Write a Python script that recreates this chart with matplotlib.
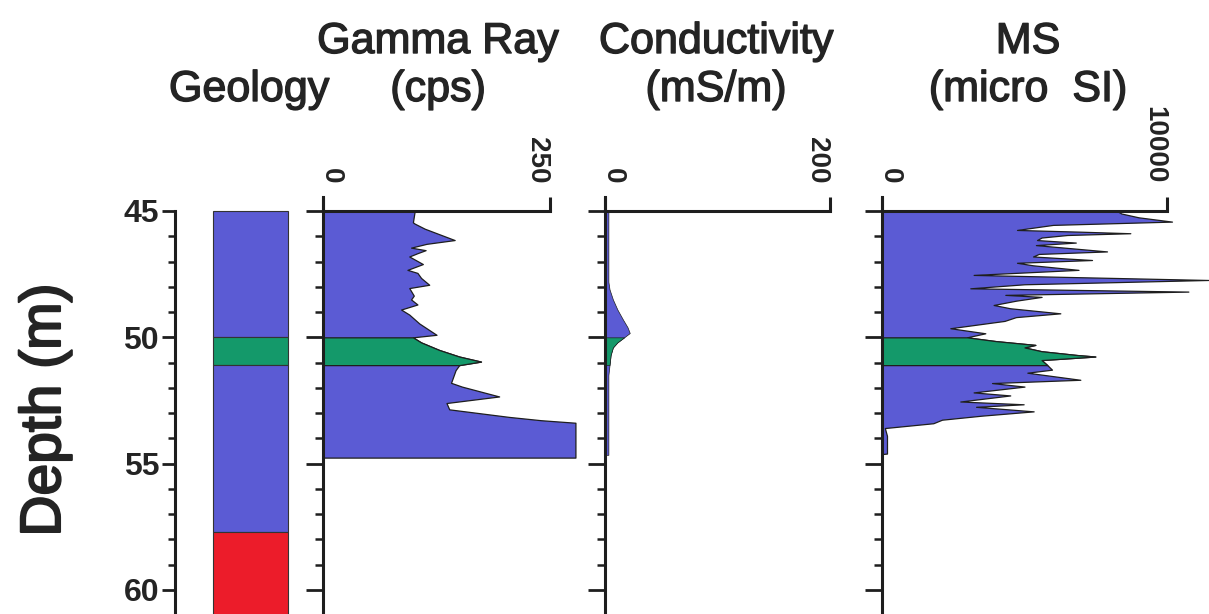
import matplotlib
matplotlib.use("Agg")
import matplotlib.pyplot as plt
import matplotlib.transforms as mtransforms
import matplotlib.patheffects as pe
import numpy as np

plt.rcParams['font.family'] = ['Liberation Sans', 'DejaVu Sans']

# geology column
geo_top = [45.0, 50.0, 51.1, 57.7]
geo_base = [50.0, 51.1, 57.7, 61.0]
geo_colour = ['#5b5bd4', '#14996a', '#5b5bd4', '#ec1c2a']

# gamma ray (cps)
gr_depth = [45.0, 45.45, 45.5, 45.7, 46.15, 46.3, 46.45, 46.55, 46.67, 46.8, 46.9,
            47.1, 47.33, 47.45, 47.65, 47.92, 48.05, 48.35, 48.5, 48.7, 48.9, 49.1,
            49.45, 49.9, 50.0, 50.2, 50.5, 50.76, 50.96, 51.1, 51.3, 51.8, 51.95,
            52.34, 52.6, 52.85, 53.0, 53.15, 53.28, 53.38, 54.76]
gr_value = [101, 99, 101, 112, 145, 114, 97, 113, 104, 95, 100,
            110, 93, 104, 108, 117, 95, 100, 97, 104, 86, 95,
            106, 125, 99, 108, 128, 150, 174, 150, 146, 141, 153,
            194, 136, 139, 172, 205, 240, 278, 278]

# conductivity (mS/m)
co_depth = [45.0, 46.0, 47.0, 47.8, 48.1, 48.5, 48.9, 49.3, 49.6, 49.83, 50.0,
            50.2, 50.4, 50.7, 51.1, 51.5, 53.0, 54.65]
co_value = [3, 3, 3, 3, 4, 7, 11, 16, 20, 22, 17, 11, 7, 5, 4, 3, 3, 3]

# magnetic susceptibility (micro SI)
ms_depth = [45.0, 45.1, 45.25, 45.42, 45.55, 45.75, 45.82, 45.88, 45.95, 46.05,
            46.15, 46.25, 46.35, 46.6, 46.7, 46.8, 46.94, 47.05, 47.15, 47.33,
            47.53, 47.73, 47.9, 48.06, 48.19, 48.32, 48.4, 48.55, 48.72, 48.85,
            49.05, 49.2, 49.35, 49.64, 49.84, 50.0, 50.15, 50.3, 50.4, 50.55,
            50.7, 50.76, 50.9, 51.1, 51.28, 51.4, 51.68, 51.81, 51.95, 52.18,
            52.3, 52.54, 52.65, 52.75, 52.93, 53.1, 53.26, 53.4, 53.59, 53.9,
            54.6, 54.62]
ms_value = [8245, 8400, 9000, 10175, 6000, 4737, 7000, 8713, 6500, 5600,
            5439, 6800, 5400, 7895, 5500, 5300, 7369, 4737, 5300, 6895,
            3215, 11450, 5000, 3098, 10750, 4327, 5600, 4700, 3916, 4500,
            6257, 4700, 4300, 2397, 3625, 2983, 4000, 5380, 5000, 5600,
            6843, 7485, 5600, 5800, 5965, 5100, 6959, 3860, 5000, 3215,
            4500, 2748, 4970, 3300, 5321, 3500, 2105, 1800, 100, 175,
            175, 0]

tracks = [
    (gr_depth, gr_value, 250, 323, 227),
    (co_depth, co_value, 200, 605, 225),
    (ms_depth, ms_value, 10000, 882, 285),
]

blue = '#5b5bd4'
green = '#14996a'
ink = '#1e1e1e'
txt = '#242424'

W, H = 1209, 614
ytop, ybot = 44.446, 60.95
axh = (H - 197) / H

fig = plt.figure(figsize=(W / 100, H / 100), dpi=100)

# depth axis with geology column
ax0 = fig.add_axes([175 / W, 0, 125 / W, axh])
ax0.set_xlim(0, 1)
ax0.set_ylim(ybot, ytop)
ax0.bar(0.6, np.subtract(geo_base, geo_top), bottom=geo_top, width=0.6,
        color=geo_colour, edgecolor='#333333', linewidth=0.8)
for s in ['top', 'right', 'bottom']:
    ax0.spines[s].set_visible(False)
ax0.spines['left'].set_bounds(45, ybot)
ax0.spines['left'].set_linewidth(2.2)
ax0.spines['left'].set_color(ink)
ax0.set_xticks([])
ax0.set_yticks([45, 50, 55, 60])
ax0.set_yticks(np.arange(46, 61, 1), minor=True)
ax0.tick_params(axis='y', which='major', length=9.5, width=2, color=ink,
                labelsize=23, pad=2)
ax0.tick_params(axis='y', which='minor', length=5, width=1.8, color=ink)
for lab in ax0.get_yticklabels():
    lab.set_fontweight('bold')
    lab.set_color(txt)

# log tracks
for depth, value, vmax, left, width in tracks:
    ax = fig.add_axes([left / W, 0, width / W, axh])
    ax.set_xlim(0, vmax)
    ax.set_ylim(ybot, ytop)
    d = np.array(depth)
    v = np.array(value)
    edge = 0.5 if vmax == 200 else 0.9
    ax.fill_betweenx(d, 0, v, facecolor=blue, edgecolor=ink, linewidth=edge, clip_on=False)
    ax.fill_betweenx(d, 0, v, where=(d >= 50) & (d <= 51.1), facecolor=green,
                     edgecolor=ink, linewidth=edge, clip_on=False)
    ax.spines['right'].set_visible(False)
    ax.spines['bottom'].set_visible(False)
    ax.spines['top'].set_position(('data', 45))
    for s in ['top', 'left']:
        ax.spines[s].set_linewidth(2.2)
        ax.spines[s].set_color(ink)
    ax.xaxis.set_ticks_position('top')
    ax.set_xticks([0, vmax])
    ax.set_xticklabels(['0', str(vmax)], rotation=-90, fontsize=20, fontweight='bold',
                       color=txt)
    ax.tick_params(axis='x', length=10, width=2.2, color=ink, pad=10)
    ax.set_yticks([45, 50, 55, 60])
    ax.set_yticks(np.arange(46, 61, 1), minor=True)
    ax.set_yticklabels([])
    ax.tick_params(axis='y', which='major', length=12, width=2, color=ink)
    ax.tick_params(axis='y', which='minor', length=6, width=1.8, color=ink)
    labs = ax.get_xticklabels()
    labs[0].set_transform(labs[0].get_transform() +
                          mtransforms.ScaledTranslation(8 / 100, 0, fig.dpi_scale_trans))
    labs[1].set_transform(labs[1].get_transform() +
                          mtransforms.ScaledTranslation(-13 / 100, 0, fig.dpi_scale_trans))

# headings
thick = [pe.withStroke(linewidth=1.0, foreground=txt)]
tkw = dict(fontsize=31, ha='center', va='baseline', color=txt, path_effects=thick)
fig.text(438 / W, 1 - 53 / H, 'Gamma Ray', **tkw)
fig.text(716 / W, 1 - 53 / H, 'Conductivity', **tkw)
fig.text(1028 / W, 1 - 53 / H, 'MS', **tkw)
fig.text(249 / W, 1 - 101 / H, 'Geology', **tkw)
fig.text(438 / W, 1 - 101 / H, '(cps)', **tkw)
fig.text(716 / W, 1 - 101 / H, '(mS/m)', **tkw)
fig.text(1028 / W, 1 - 101 / H, '(micro  SI)', **tkw)
fig.text(45 / W, 1 - 410 / H, 'Depth (m)', fontsize=41, rotation=90, ha='center',
         va='center', color=txt, path_effects=[pe.withStroke(linewidth=1.5, foreground=txt)])

fig.savefig('out.png', dpi=100)
